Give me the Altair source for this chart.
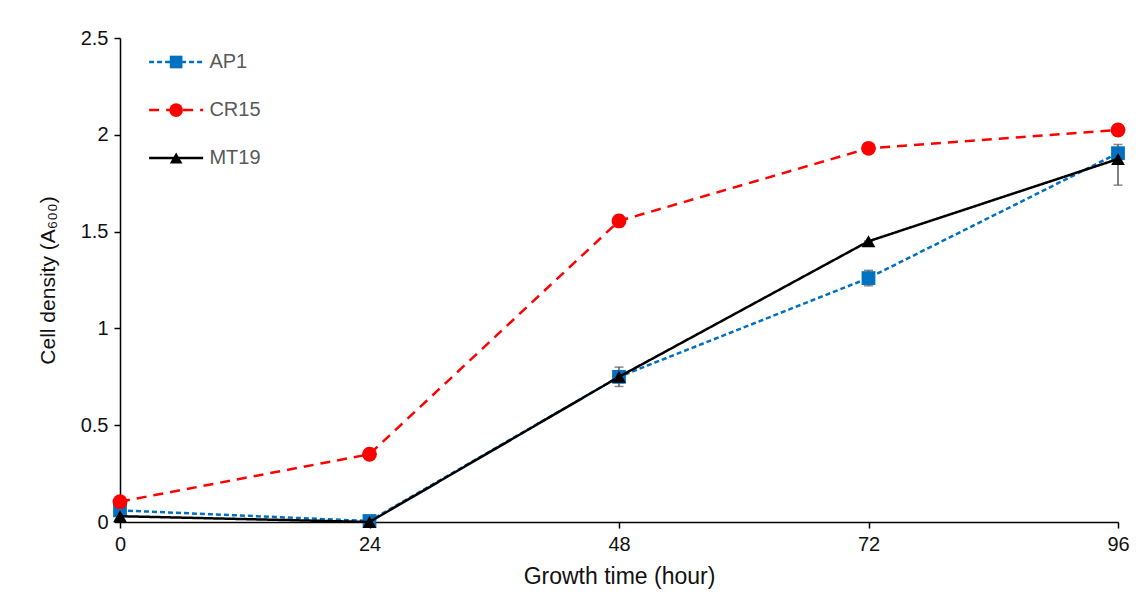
import altair as alt
import pandas as pd

hours = [0, 24, 48, 72, 96]
series_names = ["AP1", "CR15", "MT19"]
ap1 = [0.06, 0.005, 0.75, 1.26, 1.905]
cr15 = [0.105, 0.35, 1.555, 1.93, 2.025]
mt19 = [0.03, 0.0, 0.75, 1.45, 1.875]
# error bar extents (low, high)
ap1_lo = [0.06, 0.005, 0.70, 1.22, 1.88]
ap1_hi = [0.06, 0.005, 0.80, 1.30, 1.93]
cr15_lo = [0.105, 0.35, 1.525, 1.93, 2.025]
cr15_hi = [0.105, 0.35, 1.585, 1.93, 2.025]
mt19_lo = [0.03, 0.0, 0.72, 1.45, 1.74]
mt19_hi = [0.03, 0.0, 0.78, 1.45, 1.95]
y_ticks = [0, 0.5, 1, 1.5, 2, 2.5]

colors = {"AP1": "#0070C0", "CR15": "#FF0000", "MT19": "#000000"}
dashes = {"AP1": [5, 3], "CR15": [10, 7], "MT19": [1, 0]}
shapes = {"AP1": "square", "CR15": "circle", "MT19": "triangle-up"}
sizes = {"AP1": 190, "CR15": 220, "MT19": 190}

vals = {"AP1": ap1, "CR15": cr15, "MT19": mt19}
los = {"AP1": ap1_lo, "CR15": cr15_lo, "MT19": mt19_lo}
his = {"AP1": ap1_hi, "CR15": cr15_hi, "MT19": mt19_hi}

rows = []
for s in series_names:
    for h, v, lo, hi in zip(hours, vals[s], los[s], his[s]):
        rows.append({"series": s, "hour": h, "value": v, "lo": lo, "hi": hi})
df = pd.DataFrame(rows)

# legend entries placed in data units
leg = pd.DataFrame({
    "series": series_names,
    "x1": [2.8, 2.8, 2.8],
    "x2": [8.0, 8.0, 8.0],
    "xm": [5.4, 5.4, 5.4],
    "xt": [8.6, 8.6, 8.6],
    "y": [2.376, 2.128, 1.88],
})

xscale = alt.Scale(domain=[0, 96], nice=False, zero=False)
yscale = alt.Scale(domain=[0, 2.5], nice=False)

xaxis = alt.Axis(values=hours, title="Growth time (hour)", grid=False, labelFlush=False,
                 titlePadding=11, titleFontSize=23)
yaxis = alt.Axis(values=y_ticks, format="~g", title="Cell density (A₆₀₀)", grid=False,
                 labelFlush=False, titlePadding=22, titleFontSize=21)

base = alt.Chart(df)

err = base.mark_errorbar(ticks=alt.MarkConfig(size=9), color="#595959", thickness=1.5).encode(
    x=alt.X("hour:Q", scale=xscale, axis=xaxis),
    y=alt.Y("lo:Q", scale=yscale, axis=yaxis),
    y2="hi:Q",
)

layers = [err]
for s in series_names:
    sd = base.transform_filter(alt.datum.series == s)
    line = sd.mark_line(color=colors[s], strokeDash=dashes[s], strokeWidth=2.5).encode(
        x=alt.X("hour:Q", scale=xscale, axis=xaxis),
        y=alt.Y("value:Q", scale=yscale, axis=yaxis),
    )
    pt = sd.mark_point(shape=shapes[s], filled=True, opacity=1, color=colors[s],
                       size=sizes[s]).encode(x="hour:Q", y="value:Q")
    layers += [line, pt]

lb = alt.Chart(leg)
for s in series_names:
    ld = lb.transform_filter(alt.datum.series == s)
    layers.append(ld.mark_rule(color=colors[s], strokeDash=dashes[s], strokeWidth=2.5).encode(
        x="x1:Q", x2="x2:Q", y="y:Q"))
    layers.append(ld.mark_point(shape=shapes[s], filled=True, opacity=1, color=colors[s],
                                size=sizes[s] - 30).encode(x="xm:Q", y="y:Q"))
    layers.append(ld.mark_text(align="left", baseline="middle", fontSize=20,
                               font="Liberation Sans", color="#595959").encode(
        x="xt:Q", y="y:Q", text="series:N"))

chart = alt.layer(*layers).properties(
    width=998, height=484,
    autosize=alt.AutoSizeParams(type="none"),
    padding={"left": 112, "top": 30, "right": 20, "bottom": 70},
    background="white",
).configure_view(stroke=None).configure_axis(
    domainColor="black", domainWidth=1.5, tickColor="black", tickWidth=1.5, tickSize=6,
    labelFontSize=20, labelColor="#111", labelPadding=6, labelFont="Liberation Sans",
    titleFontWeight="normal", titleColor="#111", titleFont="Liberation Sans",
)

chart.save("out.html", embed_options={"renderer": "svg", "actions": False})
